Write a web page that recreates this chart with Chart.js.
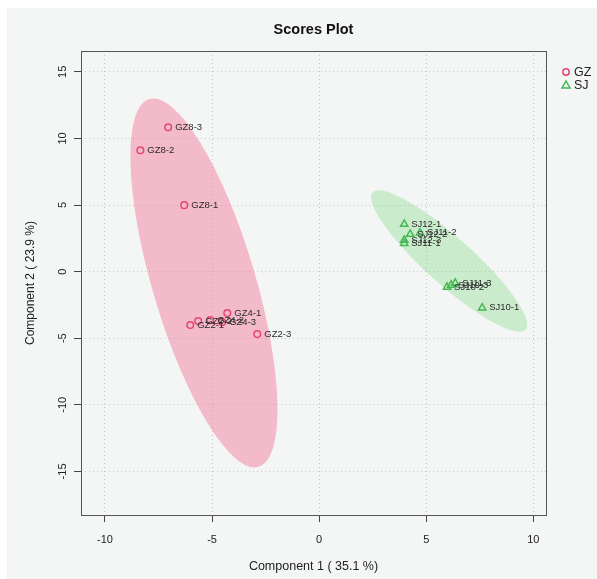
<!DOCTYPE html>
<html lang="en">
<head>
    <meta charset="UTF-8"/>
    <title>Scores Plot</title>
    <script src="https://cdn.jsdelivr.net/npm/chart.js"></script>
    <style>
        html, body {
            margin: 0;
            padding: 0;
            background-color: #fff;
            width: 100%;
            height: 100%;
            overflow: hidden;
        }
        .chart-container {
            position: relative;
            width: 597px;
            height: 579px;
        }
    </style>
</head>
<body>
<div class="chart-container">
    <canvas id="scoresChart"></canvas>
</div>

<script>
    // sample scores
    const gzNames = ['GZ8-3', 'GZ8-2', 'GZ8-1', 'GZ4-1', 'GZ2-3', 'GZ2-1', 'GZ2-2', 'GZ4-2', 'GZ4-3'];
    const gzX = [-7.05, -8.35, -6.30, -4.29, -2.89, -6.02, -5.65, -5.09, -4.53];
    const gzY = [10.84, 9.11, 4.99, -3.11, -4.69, -4.01, -3.71, -3.64, -3.79];

    const sjNames = ['SJ12-1', 'SJ12-2', 'SJ11-2', 'SJ12-3', 'SJ11-1', 'SJ10-2', 'SJ10-3', 'SJ11-3', 'SJ10-1'];
    const sjX = [3.97, 4.25, 4.71, 3.97, 3.97, 5.97, 6.16, 6.35, 7.61];
    const sjY = [3.56, 2.81, 2.91, 2.36, 2.12, -1.16, -1.01, -0.86, -2.72];

    // confidence ellipses: centre, half major axis vector, half minor axis vector (data units)
    const gzEllipseCenter = [-5.38, -0.85];
    const gzEllipseMajor = [2.55, -13.80];
    const gzEllipseMinor = [2.30, 1.12];
    const sjEllipseCenter = [6.07, 0.79];
    const sjEllipseMajor = [3.57, -5.15];
    const sjEllipseMinor = [0.74, 1.30];

    const xTicks = [-10, -5, 0, 5, 10];
    const yTicks = [-15, -10, -5, 0, 5, 10, 15];

    const groupNames = ['GZ', 'SJ'];

    const gzColor = '#e5466e';
    const sjColor = '#44b94f';
    const font = "'Liberation Sans', Arial, sans-serif";

    const toPoints = (xs, ys) => xs.map((x, i) => ({x: x, y: ys[i]}));

    const backgroundPlugin = {
        id: 'panelBackground',
        beforeDraw(chart) {
            const ctx = chart.ctx;
            ctx.save();
            ctx.fillStyle = '#ffffff';
            ctx.fillRect(0, 0, chart.width, chart.height);
            ctx.fillStyle = '#f4f6f6';
            ctx.fillRect(7, 8, chart.width - 7, chart.height - 8);
            ctx.restore();
        }
    };

    function drawEllipse(chart, center, major, minor, fill) {
        const xs = chart.scales.x, ys = chart.scales.y;
        const ctx = chart.ctx;
        const cx = xs.getPixelForValue(center[0]), cy = ys.getPixelForValue(center[1]);
        const ux = xs.getPixelForValue(center[0] + major[0]) - cx;
        const uy = ys.getPixelForValue(center[1] + major[1]) - cy;
        const vx = xs.getPixelForValue(center[0] + minor[0]) - cx;
        const vy = ys.getPixelForValue(center[1] + minor[1]) - cy;
        ctx.save();
        ctx.beginPath();
        ctx.rect(chart.chartArea.left, chart.chartArea.top, chart.chartArea.width, chart.chartArea.height);
        ctx.clip();
        ctx.save();
        ctx.transform(ux, uy, vx, vy, cx, cy);
        ctx.beginPath();
        ctx.arc(0, 0, 1, 0, Math.PI * 2);
        ctx.restore();
        ctx.fillStyle = fill;
        ctx.fill();
        ctx.restore();
    }

    const ellipsePlugin = {
        id: 'ellipses',
        beforeDatasetsDraw(chart) {
            drawEllipse(chart, gzEllipseCenter, gzEllipseMajor, gzEllipseMinor, 'rgba(242, 110, 146, 0.44)');
            drawEllipse(chart, sjEllipseCenter, sjEllipseMajor, sjEllipseMinor, 'rgba(120, 212, 120, 0.33)');
        }
    };

    const decorPlugin = {
        id: 'decor',
        afterDatasetsDraw(chart) {
            const ctx = chart.ctx;
            const area = chart.chartArea;
            ctx.save();
            // sample labels
            ctx.font = '9.5px ' + font;
            ctx.fillStyle = '#2a2a2a';
            ctx.textBaseline = 'middle';
            ctx.textAlign = 'left';
            chart.data.datasets.forEach((ds, di) => {
                const meta = chart.getDatasetMeta(di);
                meta.data.forEach((pt, i) => {
                    ctx.fillText(ds.names[i], pt.x + 7, pt.y);
                });
            });
            // box
            ctx.strokeStyle = '#555';
            ctx.lineWidth = 1;
            ctx.strokeRect(Math.round(area.left) + 0.5, Math.round(area.top) + 0.5,
                Math.round(area.width), Math.round(area.height));
            // legend
            ctx.font = '12.5px ' + font;
            ctx.fillStyle = '#222';
            chart.data.datasets.forEach((ds, di) => {
                const y = area.top + 21 + di * 13;
                ctx.strokeStyle = ds.borderColor;
                ctx.lineWidth = 1.5;
                ctx.beginPath();
                if (ds.pointStyle === 'circle') {
                    ctx.arc(area.right + 20, y, 3.2, 0, Math.PI * 2);
                } else {
                    ctx.moveTo(area.right + 20, y - 4);
                    ctx.lineTo(area.right + 24, y + 3);
                    ctx.lineTo(area.right + 16, y + 3);
                    ctx.closePath();
                }
                ctx.stroke();
                ctx.fillText(groupNames[di], area.right + 28, y + 1);
            });
            ctx.restore();
        }
    };

    const ctx = document.getElementById('scoresChart').getContext('2d');

    new Chart(ctx, {
        type: 'scatter',
        data: {
            datasets: [{
                label: groupNames[0],
                names: gzNames,
                data: toPoints(gzX, gzY),
                pointStyle: 'circle',
                pointRadius: 3.3,
                borderWidth: 1.5,
                borderColor: gzColor,
                backgroundColor: 'rgba(0,0,0,0)'
            }, {
                label: groupNames[1],
                names: sjNames,
                data: toPoints(sjX, sjY),
                pointStyle: 'triangle',
                pointRadius: 4.2,
                borderWidth: 1.5,
                borderColor: sjColor,
                backgroundColor: 'rgba(0,0,0,0)'
            }]
        },
        options: {
            responsive: true,
            maintainAspectRatio: false,
            animation: false,
            layout: {
                padding: {left: 0, right: 51, top: 0, bottom: 0}
            },
            scales: {
                x: {
                    type: 'linear',
                    min: -11.12,
                    max: 10.59,
                    afterBuildTicks: (scale) => { scale.ticks = xTicks.map(v => ({value: v})); },
                    afterFit: (scale) => { scale.height = 64; },
                    grid: {
                        color: '#c4c8c8',
                        tickColor: '#444',
                        tickBorderDash: [],
                        tickLength: 7
                    },
                    border: {display: false, dash: [1, 3]},
                    ticks: {
                        color: '#222',
                        font: {family: font, size: 11},
                        padding: 11,
                        maxRotation: 0
                    },
                    title: {
                        display: true,
                        text: 'Component 1 ( 35.1 %)',
                        color: '#222',
                        font: {family: font, size: 12.5},
                        padding: {top: 5, bottom: 5}
                    }
                },
                y: {
                    type: 'linear',
                    min: -18.27,
                    max: 16.56,
                    afterBuildTicks: (scale) => { scale.ticks = yTicks.map(v => ({value: v})); },
                    afterFit: (scale) => { scale.width = 81; },
                    grid: {
                        color: '#c4c8c8',
                        tickColor: '#444',
                        tickBorderDash: [],
                        tickLength: 7
                    },
                    border: {display: false, dash: [1, 3]},
                    ticks: {
                        color: '#222',
                        font: {family: font, size: 11},
                        padding: 3,
                        minRotation: 90,
                        maxRotation: 90,
                        crossAlign: 'center'
                    },
                    title: {
                        display: true,
                        text: 'Component 2 ( 23.9 %)',
                        color: '#222',
                        font: {family: font, size: 12},
                        padding: {top: 23, bottom: 23}
                    }
                }
            },
            plugins: {
                legend: {display: false},
                tooltip: {enabled: false},
                title: {
                    display: true,
                    fullSize: false,
                    text: 'Scores Plot',
                    color: '#111',
                    font: {family: font, size: 14.5, weight: 'bold'},
                    padding: {top: 21, bottom: 12.6}
                }
            }
        },
        plugins: [backgroundPlugin, ellipsePlugin, decorPlugin]
    });
</script>
</body>
</html>
